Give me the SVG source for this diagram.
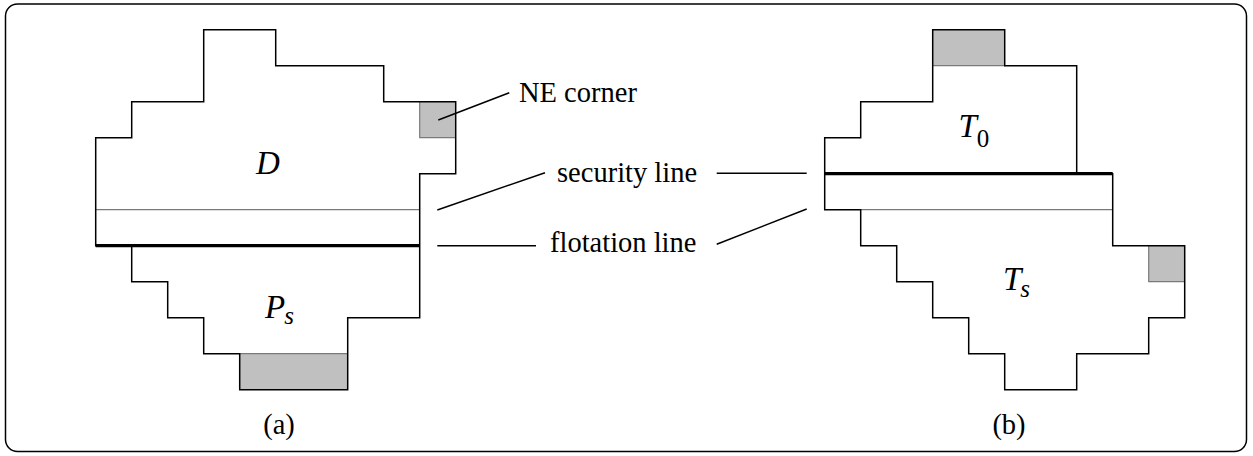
<svg xmlns="http://www.w3.org/2000/svg" width="1253" height="456" viewBox="0 0 1253 456">
<style>
.ol{fill:none;stroke:#000;stroke-width:1.5;stroke-linejoin:miter}
.gb{fill:#c0c0c0;stroke:none}
.gl{stroke:#7a7a7a;stroke-width:1.2;fill:none}
.th{stroke:#000;stroke-width:3.2}
.cn{stroke:#000;stroke-width:1.5}
.t{font-family:"Liberation Serif","Times New Roman",serif;font-size:28.5px;fill:#000}
.m{font-family:"Liberation Serif","Times New Roman",serif;font-size:33px;font-style:italic;fill:#000}
.sub{font-size:25px}
</style>
<rect x="5.5" y="4" width="1241" height="447.5" rx="12" ry="12" fill="#fff" stroke="#000" stroke-width="1.5"/>
<g id="figure-a">
<rect class="gb" x="419.7" y="101.7" width="36" height="36"/>
<rect class="gb" x="239.7" y="353.7" width="108" height="36"/>
<path class="gl" d="M419.7,101.7 V137.7 H455.7 M239.7,353.7 H347.7 M95.7,209.7 H419.7"/>
<path class="ol" d="M95.7,137.7 H131.7 V101.7 H203.7 V29.7 H275.7 V65.7 H383.7 V101.7 H455.7 V173.7 H419.7 V317.7 H347.7 V389.7 H239.7 V353.7 H203.7 V317.7 H167.7 V281.7 H131.7 V245.7 H95.7 Z"/>
<line class="th" x1="95.7" y1="245.7" x2="419.7" y2="245.7"/>
<text class="m" x="256" y="174">D</text>
<text class="m" x="265" y="318.3">P<tspan class="sub" dx="-1" dy="6">s</tspan></text>
<text class="t" x="279" y="434" text-anchor="middle">(a)</text>
</g>
<g id="figure-b">
<rect class="gb" x="932.7" y="29.7" width="72" height="36"/>
<rect class="gb" x="1148.7" y="245.7" width="36" height="36"/>
<path class="gl" d="M932.7,65.7 H1004.7 M1148.7,245.7 V281.7 H1184.7 M860.7,209.7 H1112.7"/>
<path class="ol" d="M824.7,209.7 V137.7 H860.7 V101.7 H932.7 V29.7 H1004.7 V65.7 H1076.7 V173.7 H1112.7 V245.7 H1184.7 V317.7 H1148.7 V353.7 H1076.7 V389.7 H1004.7 V353.7 H968.7 V317.7 H932.7 V281.7 H896.7 V245.7 H860.7 V209.7 Z"/>
<line class="th" x1="824.7" y1="173.7" x2="1112.7" y2="173.7"/>
<text class="m" x="958.5" y="137.3">T<tspan class="sub" font-style="normal" dx="0" dy="9.4">0</tspan></text>
<text class="m" x="1003" y="290">T<tspan class="sub" dx="-1" dy="7">s</tspan></text>
<text class="t" x="1009" y="434" text-anchor="middle">(b)</text>
</g>
<g id="labels">
<text class="t" x="519" y="102.3">NE corner</text>
<text class="t" x="557" y="181.7">security line</text>
<text class="t" x="550" y="251.7">flotation line</text>
</g>
<g id="connectors">
<line class="cn" x1="438.3" y1="120" x2="509.3" y2="92.7"/>
<line class="cn" x1="437.3" y1="210" x2="545" y2="172.7"/>
<line class="cn" x1="716.7" y1="173.3" x2="806.7" y2="173.3"/>
<line class="cn" x1="437.3" y1="245.7" x2="536" y2="245.7"/>
<line class="cn" x1="716.7" y1="244.3" x2="806.7" y2="209"/>
</g>
</svg>
